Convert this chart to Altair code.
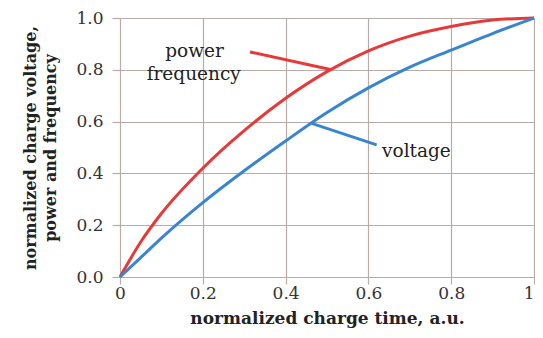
import altair as alt
import pandas as pd

x_vals = [0.0, 0.05, 0.1, 0.2, 0.3, 0.4, 0.5, 0.6, 0.7, 0.8, 0.9, 1.0]
power_freq = [0.0, 0.135, 0.245, 0.42, 0.565, 0.69, 0.793, 0.873, 0.93, 0.967, 0.992, 1.0]
voltage = [0.0, 0.075, 0.15, 0.287, 0.41, 0.525, 0.635, 0.73, 0.81, 0.876, 0.94, 1.0]

series_names = ["power frequency", "voltage"]
series_colors = ["#e8393a", "#3a85d0"]

ann_text = ["power", "frequency", "voltage"]
ann_x = [0.18, 0.178, 0.716]
ann_y = [0.872, 0.782, 0.487]

ptr_x = [0.314, 0.463]
ptr_y = [0.869, 0.593]
ptr_x2 = [0.511, 0.62]
ptr_y2 = [0.800, 0.510]

rows = []
for xv, p, v in zip(x_vals, power_freq, voltage):
    rows.append({"t": xv, "val": p, "series": series_names[0]})
    rows.append({"t": xv, "val": v, "series": series_names[1]})
df = pd.DataFrame(rows)

ann_df = pd.DataFrame({"x": ann_x, "y": ann_y, "label": ann_text})
ptr_df = pd.DataFrame({"x": ptr_x, "y": ptr_y, "x2": ptr_x2, "y2": ptr_y2,
                       "series": series_names})

grid_color = "#b9aca8"
font = "DejaVu Serif"

xscale = alt.Scale(domain=[0, 1], nice=False)
yscale = alt.Scale(domain=[0, 1], nice=False)
cscale = alt.Scale(domain=series_names, range=series_colors)

lines = alt.Chart(df).mark_line(strokeWidth=3, interpolate="monotone").encode(
    x=alt.X("t:Q", scale=xscale,
            axis=alt.Axis(title="normalized charge time, a.u.",
                          values=[0, 0.2, 0.4, 0.6, 0.8, 1.0],
                          labelExpr="datum.value == 0 ? '0' : datum.value == 1 ? '1' : format(datum.value, '.1f')",
                          labelAlign=alt.condition("datum.value == 1", alt.value("right"), alt.value("center")),
                          tickSize=7, labelPadding=1, titlePadding=9, titleFontSize=17)),
    y=alt.Y("val:Q", scale=yscale,
            axis=alt.Axis(title=["normalized charge voltage,", "power and frequency"],
                          values=[0, 0.2, 0.4, 0.6, 0.8, 1.0], format=".1f",
                          tickSize=8, labelPadding=9, titlePadding=17, titleFontSize=16)),
    color=alt.Color("series:N", scale=cscale, legend=None),
)

ptrs = alt.Chart(ptr_df).mark_rule(strokeWidth=3).encode(
    x="x:Q", y="y:Q", x2="x2:Q", y2="y2:Q",
    color=alt.Color("series:N", scale=cscale, legend=None),
)

texts = alt.Chart(ann_df).mark_text(font=font, fontSize=18.5, color="#222222").encode(
    x="x:Q", y="y:Q", text="label:N"
)

chart = alt.layer(lines, ptrs, texts).properties(
    width=414, height=259,
    autosize=alt.AutoSizeParams(type="none"),
    padding={"left": 112, "top": 10, "right": 1, "bottom": 53},
).configure_view(stroke=None).configure_axis(
    domain=False,
    gridColor=grid_color,
    gridWidth=1.2,
    tickColor=grid_color,
    tickWidth=1.2,
    labelFont=font,
    labelFontSize=17,
    labelColor="#333333",
    titleFont=font,
    titleFontWeight="bold",
    titleColor="#222222",
    titleLineHeight=20,
)

chart.save("out.html", embed_options={"renderer": "svg", "actions": False})
